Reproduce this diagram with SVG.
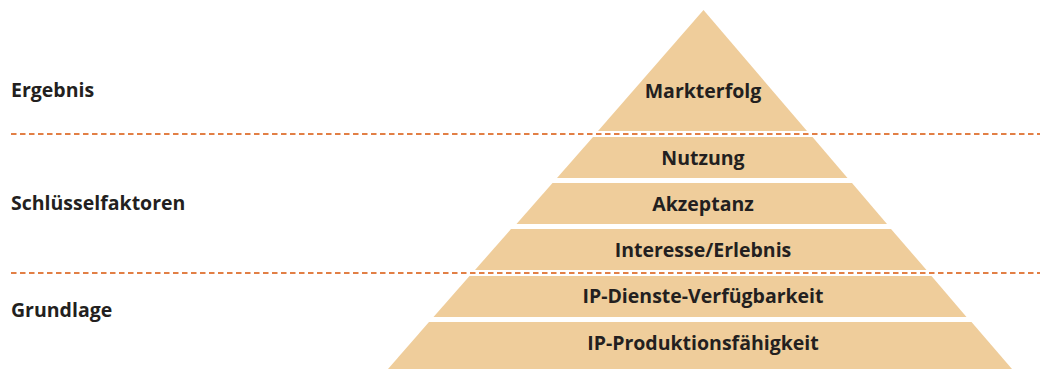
<svg xmlns="http://www.w3.org/2000/svg" width="1045" height="369" viewBox="0 0 1045 369">
  <style>
    .layer { fill: #EFCD9B; }
    .lbl { font-family: "Open Sans", "Noto Sans", "Liberation Sans", sans-serif; font-weight: 700; font-size: 19.5px; fill: #231F20; }
    .mid { text-anchor: middle; }
    .sep { fill: none; stroke: #E27F45; stroke-width: 1.8; stroke-dasharray: 5.5 3.5; }
  </style>
  <rect width="1045" height="369" fill="#ffffff"/>

  <!-- pyramid layers, apex at (703,10) -->
  <g id="markterfolg">
    <polygon class="layer" points="703.5,10 598,131 807,131"/>
    <text class="lbl mid" x="703" y="98">Markterfolg</text>
  </g>
  <g id="nutzung">
    <polygon class="layer" points="593,137 812.5,137 847.5,178 557,178"/>
    <text class="lbl mid" x="703" y="165">Nutzung</text>
  </g>
  <g id="akzeptanz">
    <polygon class="layer" points="552.5,183 852,183 887,224 516.5,224"/>
    <text class="lbl mid" x="703" y="211">Akzeptanz</text>
  </g>
  <g id="interesse">
    <polygon class="layer" points="511,229 891,229 926.5,270 475,270"/>
    <text class="lbl mid" x="703" y="257">Interesse/Erlebnis</text>
  </g>
  <g id="dienste">
    <polygon class="layer" points="469.5,276 931.5,276 966.5,317 433.5,317"/>
    <text class="lbl mid" x="703" y="303">IP-Dienste-Verfügbarkeit</text>
  </g>
  <g id="produktion">
    <polygon class="layer" points="429,322 971.5,322 1012,369 388,369"/>
    <text class="lbl mid" x="703" y="350">IP-Produktionsfähigkeit</text>
  </g>

  <!-- level labels -->
  <g id="ergebnis"><text class="lbl" x="11" y="97">Ergebnis</text></g>
  <g id="schluesselfaktoren"><text class="lbl" x="11" y="210">Schlüsselfaktoren</text></g>
  <g id="grundlage"><text class="lbl" x="11" y="317">Grundlage</text></g>

  <!-- dashed level separators -->
  <g id="connectors">
    <line class="sep" x1="11" y1="134" x2="1040" y2="134"/>
    <line class="sep" x1="11" y1="273" x2="1040" y2="273"/>
  </g>
</svg>
